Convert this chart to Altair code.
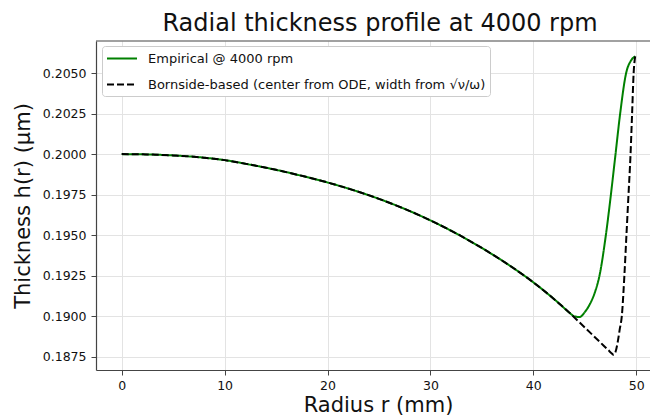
import altair as alt
import pandas as pd

# ---- data ----
r_common = [0, 2.5, 5, 7.5, 10, 12.5, 15, 17.5, 20, 22.5, 25, 27.5, 30, 32.5, 35, 37.5, 40, 42.5, 43.5]
h_common = [0.20000, 0.19998, 0.19992, 0.19981, 0.19963, 0.19935, 0.19903, 0.19866, 0.19825,
            0.19778, 0.19724, 0.19662, 0.19591, 0.19511, 0.19421, 0.19321, 0.19209, 0.19079, 0.19022]

r_emp_tail = [44.0, 44.5, 45.0, 45.5, 46.0, 46.43, 47.05, 47.54, 47.99, 48.44, 49.02, 49.5, 49.9]
h_emp_tail = [0.18999, 0.18995, 0.19025, 0.19075, 0.19150, 0.19250, 0.19500, 0.19750,
              0.20000, 0.20250, 0.20500, 0.20578, 0.20603]

r_bor_tail = [44.5, 45.5, 46.5, 47.3, 47.6, 47.8, 48.0, 48.2, 48.4, 48.6, 48.85, 49.05,
              49.25, 49.45, 49.6, 49.75, 49.9]
h_bor_tail = [0.18961, 0.18900, 0.18839, 0.18790, 0.18772, 0.18762, 0.18782, 0.18840,
              0.18920, 0.19000, 0.19250, 0.19500, 0.19750, 0.20000, 0.20250, 0.20500, 0.20603]

series_names = ["Empirical @ 4000 rpm",
                "Bornside-based (center from ODE, width from \u221a\u03bd/\u03c9)"]
series_colors = ["#008000", "#000000"]

x_ticks = [0, 10, 20, 30, 40, 50]
y_ticks = [0.1875, 0.1900, 0.1925, 0.1950, 0.1975, 0.2000, 0.2025, 0.2050]

x_domain = [-2.5, 51.34]
y_domain = [0.18668, 0.20698]

# ---- build table ----
rows = []
for r, h in zip(r_common + r_emp_tail, h_common + h_emp_tail):
    rows.append({"r": r, "h": h, "series": series_names[0]})
for r, h in zip(r_common + r_bor_tail, h_common + h_bor_tail):
    rows.append({"r": r, "h": h, "series": series_names[1]})
df = pd.DataFrame(rows)

W, H = 554, 329
FONT = "DejaVu Sans"

x_enc = alt.X("r:Q", scale=alt.Scale(domain=x_domain, nice=False, zero=False),
              axis=alt.Axis(values=x_ticks, title="Radius r (mm)", grid=True,
                            titleX=282, titleY=41, titleBaseline="alphabetic"))
y_enc = alt.Y("h:Q", scale=alt.Scale(domain=y_domain, nice=False, zero=False),
              axis=alt.Axis(values=y_ticks, format=".4f", title="Thickness h(r) (\u03bcm)",
                            grid=True, titleX=-67, titleBaseline="alphabetic"))
color_enc = alt.Color("series:N",
                      scale=alt.Scale(domain=series_names, range=series_colors),
                      legend=alt.Legend(orient="none", legendX=6, legendY=5, title=None,
                                        symbolType="M-1,0H3", symbolSize=225,
                                        symbolStrokeWidth=2, labelFontSize=13,
                                        labelFont=FONT, labelColor="#111111",
                                        labelLimit=0,
                                        padding=4, rowPadding=10, labelOffset=25,
                                        fillColor="white", strokeColor="#cccccc",
                                        cornerRadius=3))
dash_enc = alt.StrokeDash("series:N",
                          scale=alt.Scale(domain=series_names, range=[[1, 0], [7, 3]]),
                          legend=alt.Legend(orient="none", legendX=6, legendY=5, title=None))

base = alt.Chart(df)
green = base.transform_filter(alt.datum.series == series_names[0]).mark_line(
    strokeWidth=2, interpolate="monotone", clip=True
).encode(x=x_enc, y=y_enc, color=color_enc, strokeDash=dash_enc)
black = base.transform_filter(alt.datum.series == series_names[1]).mark_line(
    strokeWidth=2, interpolate="monotone", clip=True
).encode(x=x_enc, y=y_enc, color=color_enc, strokeDash=dash_enc)

top_spine = alt.Chart(pd.DataFrame({"a": [0]})).mark_rule(
    color="#444444", strokeWidth=1.2
).encode(x=alt.value(0), x2=alt.value(W), y=alt.value(0))

chart = alt.layer(green, black, top_spine).properties(
    width=W, height=H,
    title=alt.TitleParams("Radial thickness profile at 4000 rpm", fontSize=24, font=FONT,
                          fontWeight="normal", color="#111111", anchor="middle",
                          baseline="alphabetic", offset=9, dx=7, dy=24),
    autosize=alt.AutoSizeParams(type="none"),
    padding={"left": 96, "top": 41, "right": 0, "bottom": 48},
).configure_view(stroke=None).configure_axis(
    labelFont=FONT, labelFontSize=12.5, labelColor="#111111",
    titleFont=FONT, titleFontSize=21, titleFontWeight="normal", titleColor="#111111",
    domainColor="#444444", domainWidth=1.2, tickColor="#444444", tickSize=5,
    tickWidth=1, labelPadding=4, gridColor="#e3e3e3", gridWidth=1
).configure_axisY(labelPadding=5)

chart.save("out.html", embed_options={"renderer": "svg", "actions": False})
